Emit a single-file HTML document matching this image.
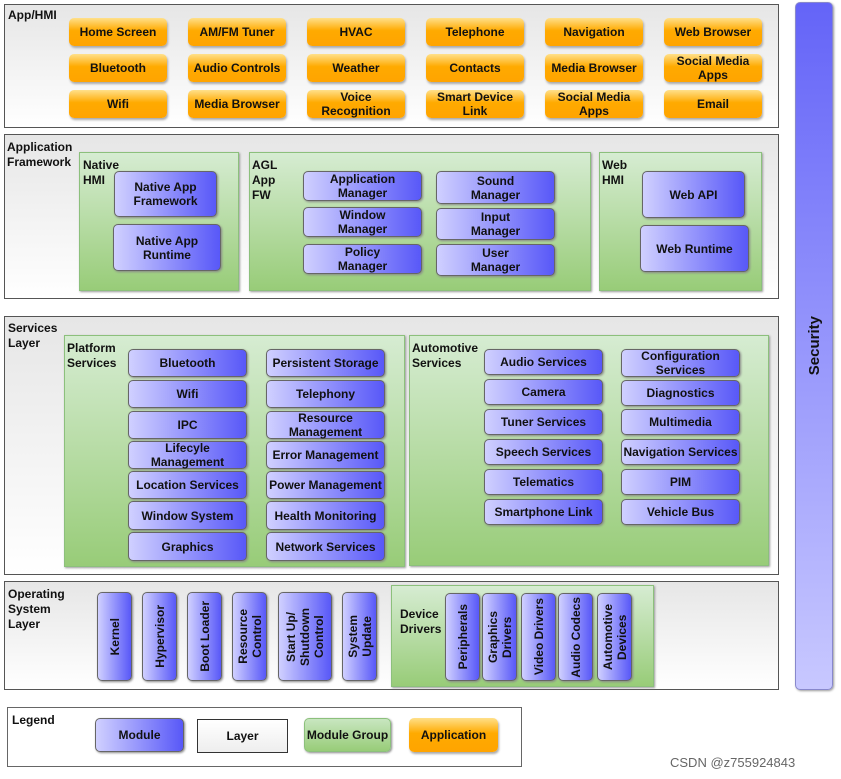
<!DOCTYPE html>
<html><head><meta charset="utf-8"><style>
body{margin:0;width:841px;height:779px;background:#fff;position:relative;overflow:hidden;font-family:"Liberation Sans",Arial,sans-serif;font-weight:bold;font-size:12px;color:#111}
div{box-sizing:border-box;position:absolute}
.L{border:1.5px solid #555;background:linear-gradient(#e6e6e6,#fff)}
.g{border:1px solid #8cc07c;background:linear-gradient(#d6ecd2,#98cc78);box-shadow:1px 1px 2px #999}
.m{border:1px solid #666;border-radius:5px;background:linear-gradient(90deg,#d0d0ff,#5858f8);box-shadow:1px 1px 2px #888;display:flex;align-items:center;justify-content:center;text-align:center;line-height:14px}
.o{border-radius:5px;background:linear-gradient(#ffe08a,#ffaa00 45%,#ffa400);box-shadow:1px 2px 2px #aaa;display:flex;align-items:center;justify-content:center;text-align:center;line-height:14px}
.t{line-height:15px}
.v{writing-mode:vertical-rl;transform:rotate(180deg)}
</style></head><body>

<!-- Security -->
<div style="left:795px;top:2px;width:38px;height:688px;border-radius:5px;border:1px solid #8888cc;background:linear-gradient(#6464f8,#c8c8ff);box-shadow:1px 1px 2px #999"></div>
<div style="left:795px;top:2px;width:38px;height:688px;display:flex;align-items:center;justify-content:center"><span class="v" style="font-size:15px">Security</span></div>

<!-- App/HMI -->
<div class="L" style="left:4px;top:4px;width:775px;height:124px"></div>
<div class="t" style="left:8px;top:8px">App/HMI</div>
<div class="o" style="left:69px;top:18px;width:98px;height:28px">Home Screen</div>
<div class="o" style="left:188px;top:18px;width:98px;height:28px">AM/FM Tuner</div>
<div class="o" style="left:307px;top:18px;width:98px;height:28px">HVAC</div>
<div class="o" style="left:426px;top:18px;width:98px;height:28px">Telephone</div>
<div class="o" style="left:545px;top:18px;width:98px;height:28px">Navigation</div>
<div class="o" style="left:664px;top:18px;width:98px;height:28px">Web Browser</div>
<div class="o" style="left:69px;top:54px;width:98px;height:28px">Bluetooth</div>
<div class="o" style="left:188px;top:54px;width:98px;height:28px">Audio Controls</div>
<div class="o" style="left:307px;top:54px;width:98px;height:28px">Weather</div>
<div class="o" style="left:426px;top:54px;width:98px;height:28px">Contacts</div>
<div class="o" style="left:545px;top:54px;width:98px;height:28px">Media Browser</div>
<div class="o" style="left:664px;top:54px;width:98px;height:28px">Social Media<br>Apps</div>
<div class="o" style="left:69px;top:90px;width:98px;height:28px">Wifi</div>
<div class="o" style="left:188px;top:90px;width:98px;height:28px">Media Browser</div>
<div class="o" style="left:307px;top:90px;width:98px;height:28px">Voice<br>Recognition</div>
<div class="o" style="left:426px;top:90px;width:98px;height:28px">Smart Device<br>Link</div>
<div class="o" style="left:545px;top:90px;width:98px;height:28px">Social Media<br>Apps</div>
<div class="o" style="left:664px;top:90px;width:98px;height:28px">Email</div>

<!-- Application Framework -->
<div class="L" style="left:4px;top:134px;width:775px;height:165px"></div>
<div class="t" style="left:7px;top:140px">Application<br>Framework</div>
<div class="g" style="left:79px;top:152px;width:160px;height:139px"></div>
<div class="t" style="left:83px;top:158px">Native<br>HMI</div>
<div class="m" style="left:114px;top:171px;width:103px;height:46px">Native App<br>Framework</div>
<div class="m" style="left:113px;top:224px;width:108px;height:47px">Native App<br>Runtime</div>
<div class="g" style="left:249px;top:152px;width:342px;height:139px"></div>
<div class="t" style="left:252px;top:158px">AGL<br>App<br>FW</div>
<div class="m" style="left:303px;top:171px;width:119px;height:30px">Application<br>Manager</div>
<div class="m" style="left:303px;top:207px;width:119px;height:30px">Window<br>Manager</div>
<div class="m" style="left:303px;top:244px;width:119px;height:30px">Policy<br>Manager</div>
<div class="m" style="left:436px;top:171px;width:119px;height:33px">Sound<br>Manager</div>
<div class="m" style="left:436px;top:208px;width:119px;height:32px">Input<br>Manager</div>
<div class="m" style="left:436px;top:244px;width:119px;height:32px">User<br>Manager</div>
<div class="g" style="left:599px;top:152px;width:163px;height:139px"></div>
<div class="t" style="left:602px;top:158px">Web<br>HMI</div>
<div class="m" style="left:642px;top:171px;width:103px;height:47px">Web API</div>
<div class="m" style="left:640px;top:225px;width:109px;height:47px">Web Runtime</div>

<!-- Services -->
<div class="L" style="left:4px;top:316px;width:775px;height:259px"></div>
<div class="t" style="left:8px;top:321px">Services<br>Layer</div>
<div class="g" style="left:64px;top:335px;width:341px;height:232px"></div>
<div class="t" style="left:67px;top:341px">Platform<br>Services</div>
<div class="m" style="left:128px;top:349px;width:119px;height:28px">Bluetooth</div>
<div class="m" style="left:128px;top:380px;width:119px;height:28px">Wifi</div>
<div class="m" style="left:128px;top:411px;width:119px;height:28px">IPC</div>
<div class="m" style="left:128px;top:441px;width:119px;height:28px">Lifecyle<br>Management</div>
<div class="m" style="left:128px;top:471px;width:119px;height:28px">Location Services</div>
<div class="m" style="left:128px;top:501px;width:119px;height:29px">Window System</div>
<div class="m" style="left:128px;top:532px;width:119px;height:29px">Graphics</div>
<div class="m" style="left:266px;top:349px;width:119px;height:28px">Persistent Storage</div>
<div class="m" style="left:266px;top:380px;width:119px;height:28px">Telephony</div>
<div class="m" style="left:266px;top:411px;width:119px;height:28px">Resource<br>Management</div>
<div class="m" style="left:266px;top:441px;width:119px;height:28px">Error Management</div>
<div class="m" style="left:266px;top:471px;width:119px;height:28px">Power Management</div>
<div class="m" style="left:266px;top:501px;width:119px;height:29px">Health Monitoring</div>
<div class="m" style="left:266px;top:532px;width:119px;height:29px">Network Services</div>
<div class="g" style="left:409px;top:335px;width:360px;height:231px"></div>
<div class="t" style="left:412px;top:341px">Automotive<br>Services</div>
<div class="m" style="left:484px;top:349px;width:119px;height:26px">Audio Services</div>
<div class="m" style="left:484px;top:379px;width:119px;height:26px">Camera</div>
<div class="m" style="left:484px;top:409px;width:119px;height:26px">Tuner Services</div>
<div class="m" style="left:484px;top:439px;width:119px;height:26px">Speech Services</div>
<div class="m" style="left:484px;top:469px;width:119px;height:26px">Telematics</div>
<div class="m" style="left:484px;top:499px;width:119px;height:26px">Smartphone Link</div>
<div class="m" style="left:621px;top:349px;width:119px;height:28px">Configuration<br>Services</div>
<div class="m" style="left:621px;top:380px;width:119px;height:26px">Diagnostics</div>
<div class="m" style="left:621px;top:409px;width:119px;height:26px">Multimedia</div>
<div class="m" style="left:621px;top:439px;width:119px;height:26px">Navigation Services</div>
<div class="m" style="left:621px;top:469px;width:119px;height:26px">PIM</div>
<div class="m" style="left:621px;top:499px;width:119px;height:26px">Vehicle Bus</div>

<!-- OS -->
<div class="L" style="left:4px;top:581px;width:775px;height:109px"></div>
<div class="t" style="left:8px;top:587px">Operating<br>System<br>Layer</div>
<div class="m" style="left:97px;top:592px;width:35px;height:89px"><span class="v">Kernel</span></div>
<div class="m" style="left:142px;top:592px;width:35px;height:89px"><span class="v">Hypervisor</span></div>
<div class="m" style="left:187px;top:592px;width:35px;height:89px"><span class="v">Boot Loader</span></div>
<div class="m" style="left:232px;top:592px;width:35px;height:89px"><span class="v">Resource<br>Control</span></div>
<div class="m" style="left:278px;top:592px;width:54px;height:89px"><span class="v">Start Up/<br>Shutdown<br>Control</span></div>
<div class="m" style="left:342px;top:592px;width:35px;height:89px"><span class="v">System<br>Update</span></div>
<div class="g" style="left:391px;top:585px;width:263px;height:102px"></div>
<div class="t" style="left:400px;top:607px">Device<br>Drivers</div>
<div class="m" style="left:445px;top:593px;width:35px;height:88px"><span class="v">Peripherals</span></div>
<div class="m" style="left:482px;top:593px;width:35px;height:88px"><span class="v">Graphics<br>Drivers</span></div>
<div class="m" style="left:521px;top:593px;width:35px;height:88px"><span class="v">Video Drivers</span></div>
<div class="m" style="left:558px;top:593px;width:35px;height:88px"><span class="v">Audio Codecs</span></div>
<div class="m" style="left:597px;top:593px;width:35px;height:88px"><span class="v">Automotive<br>Devices</span></div>

<!-- Legend -->
<div style="left:7px;top:707px;width:515px;height:60px;border:1.5px solid #666;background:#fff"></div>
<div class="t" style="left:12px;top:713px">Legend</div>
<div class="m" style="left:95px;top:718px;width:89px;height:34px">Module</div>
<div class="m" style="left:197px;top:719px;width:91px;height:34px;border:1.5px solid #333;border-radius:0;background:linear-gradient(#fff,#eee);box-shadow:none;font-weight:bold">Layer</div>
<div class="m" style="left:304px;top:718px;width:87px;height:34px;border-color:#8cc07c;background:linear-gradient(#c8e6c0,#98cc78)">Module Group</div>
<div class="o" style="left:409px;top:718px;width:89px;height:34px">Application</div>

<div style="left:670px;top:755px;font-weight:normal;font-size:13px;color:#666;font-family:'Liberation Sans',sans-serif">CSDN @z755924843</div>
</body></html>
